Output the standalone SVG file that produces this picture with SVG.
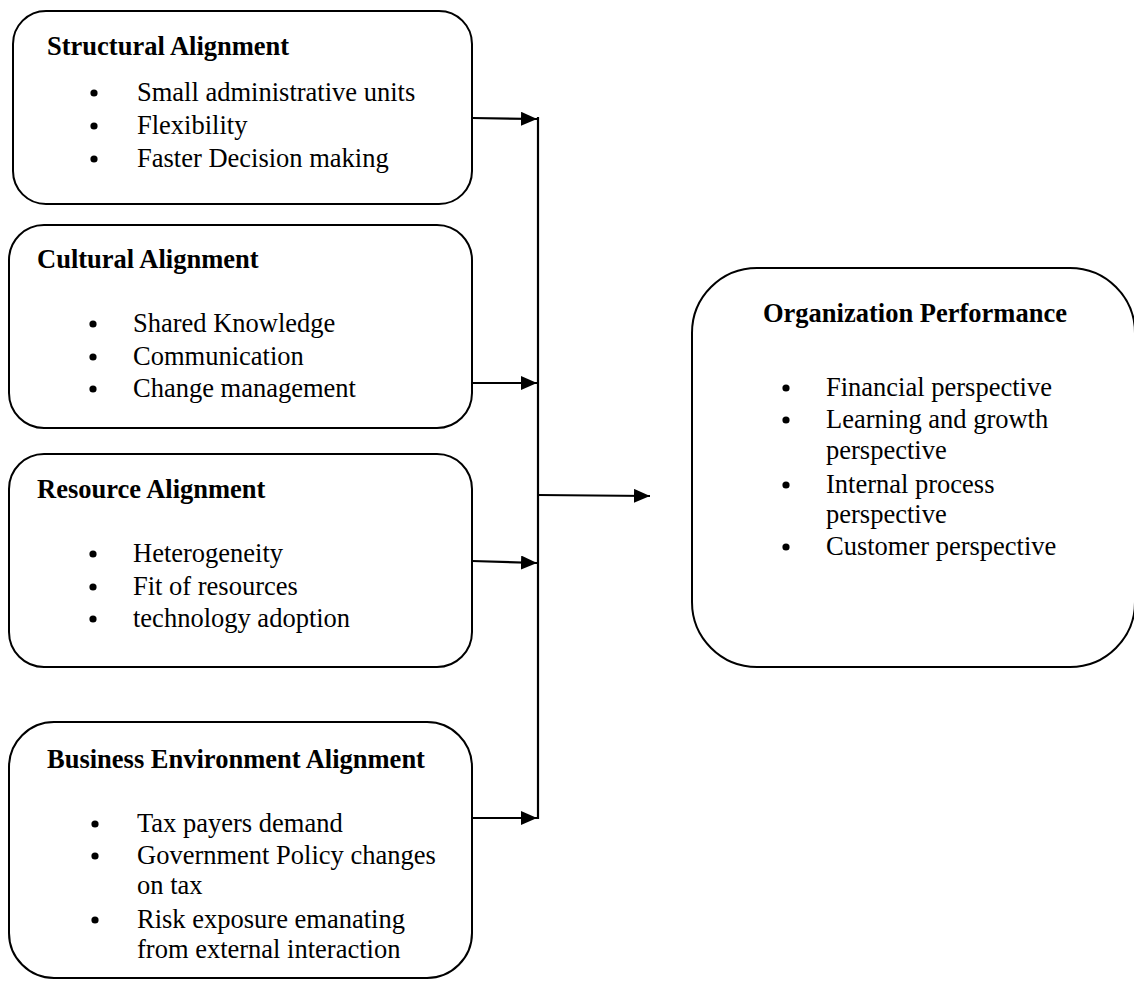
<svg xmlns="http://www.w3.org/2000/svg" width="1134" height="981" viewBox="0 0 1134 981">
<style>
.box{fill:#fff;stroke:#000;stroke-width:2}
.t{font-family:"Liberation Serif","Times New Roman",serif;font-size:26.5px;fill:#000}
.h{font-weight:bold}
.c{stroke:#000;stroke-width:2.2;fill:none}
.b{fill:#000}
</style>
<defs>
<marker id="ah" markerUnits="userSpaceOnUse" markerWidth="17" markerHeight="15" refX="16" refY="7" orient="auto">
<path d="M0,0 L16,7 L0,14 z" fill="#000"/>
</marker>
</defs>
<rect width="1134" height="981" fill="#fff"/>
<g id="connectors">
<line class="c" x1="538" y1="117" x2="538" y2="819"/>
<line class="c" x1="472" y1="118" x2="537" y2="119" marker-end="url(#ah)"/>
<line class="c" x1="472" y1="383" x2="537" y2="383" marker-end="url(#ah)"/>
<line class="c" x1="472" y1="561" x2="537" y2="563" marker-end="url(#ah)"/>
<line class="c" x1="472" y1="818" x2="537" y2="818" marker-end="url(#ah)"/>
<line class="c" x1="538" y1="495" x2="650" y2="496" marker-end="url(#ah)"/>
</g>
<g id="structural">
<rect class="box" x="13" y="11" width="459" height="193" rx="33"/>
<text class="t h" x="47" y="55">Structural Alignment</text>
<circle class="b" cx="94" cy="93" r="3.6"/><text class="t" x="137" y="101">Small administrative units</text>
<circle class="b" cx="94" cy="126" r="3.6"/><text class="t" x="137" y="134">Flexibility</text>
<circle class="b" cx="94" cy="159" r="3.6"/><text class="t" x="137" y="167">Faster Decision making</text>
</g>
<g id="cultural">
<rect class="box" x="9" y="225" width="463" height="203" rx="35"/>
<text class="t h" x="37" y="268">Cultural Alignment</text>
<circle class="b" cx="93" cy="324" r="3.6"/><text class="t" x="133" y="332">Shared Knowledge</text>
<circle class="b" cx="93" cy="357" r="3.6"/><text class="t" x="133" y="365">Communication</text>
<circle class="b" cx="93" cy="389" r="3.6"/><text class="t" x="133" y="397">Change management</text>
</g>
<g id="resource">
<rect class="box" x="9" y="454" width="463" height="213" rx="35"/>
<text class="t h" x="37" y="498">Resource Alignment</text>
<circle class="b" cx="93" cy="554" r="3.6"/><text class="t" x="133" y="562">Heterogeneity</text>
<circle class="b" cx="93" cy="587" r="3.6"/><text class="t" x="133" y="595">Fit of resources</text>
<circle class="b" cx="93" cy="619" r="3.6"/><text class="t" x="133" y="627">technology adoption</text>
</g>
<g id="business">
<rect class="box" x="9" y="722" width="463" height="256" rx="45"/>
<text class="t h" x="47" y="768">Business Environment Alignment</text>
<circle class="b" cx="95" cy="824" r="3.6"/><text class="t" x="137" y="832">Tax payers demand</text>
<circle class="b" cx="95" cy="856" r="3.6"/><text class="t" x="137" y="864">Government Policy changes</text>
<text class="t" x="137" y="894">on tax</text>
<circle class="b" cx="95" cy="920" r="3.6"/><text class="t" x="137" y="928">Risk exposure emanating</text>
<text class="t" x="137" y="958">from external interaction</text>
</g>
<g id="performance">
<rect class="box" x="692" y="268" width="443" height="399" rx="65"/>
<text class="t h" x="763" y="322">Organization Performance</text>
<circle class="b" cx="786" cy="388" r="3.6"/><text class="t" x="826" y="396">Financial perspective</text>
<circle class="b" cx="786" cy="420" r="3.6"/><text class="t" x="826" y="428">Learning and growth</text>
<text class="t" x="826" y="459">perspective</text>
<circle class="b" cx="786" cy="485" r="3.6"/><text class="t" x="826" y="493">Internal process</text>
<text class="t" x="826" y="523">perspective</text>
<circle class="b" cx="786" cy="547" r="3.6"/><text class="t" x="826" y="555">Customer perspective</text>
</g>
</svg>
